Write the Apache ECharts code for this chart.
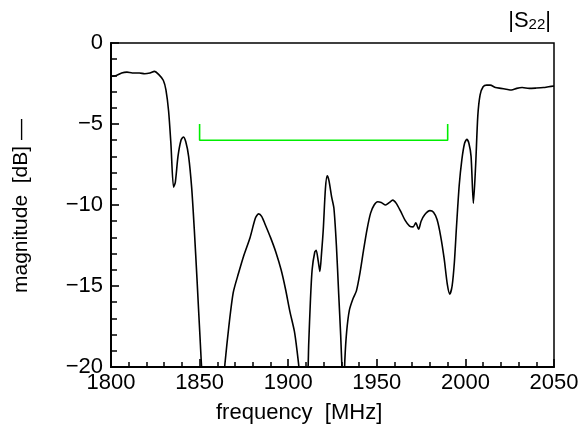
<!DOCTYPE html>
<html>
<head>
<meta charset="utf-8">
<script src="https://cdn.jsdelivr.net/npm/echarts@6/dist/echarts.min.js"></script>
<style>
html, body { margin: 0; padding: 0; background: #fff; }
#chart_content { width: 582px; height: 433px; }
</style>
</head>
<body>
<div id="chart_content"></div>
<script>
// |S22| 测量曲线 (频率 MHz / 幅度 dB)
var freq_data = [1800, 1803, 1806, 1809, 1812, 1816, 1819, 1822, 1824.5, 1827, 1829.5, 1831, 1832.5, 1833.8,
	1835.3, 1836.3, 1837.8, 1839.5, 1840.8, 1842.2, 1843.8, 1845.5, 1847, 1848.5, 1850.3, 1851.8, 1856, 1863,
	1864.3, 1866.5, 1869, 1872, 1875, 1878.5, 1881.5, 1883.3, 1885, 1887, 1890, 1893, 1896, 1898.5, 1901,
	1903.5, 1905, 1906.5, 1908, 1910.8, 1911.6, 1912.5, 1913.5, 1915, 1915.8, 1917, 1917.9, 1918.8, 1919.8,
	1921, 1922, 1923, 1924.5, 1925.8, 1927.2, 1928.5, 1929.6, 1930.5, 1931.2, 1932, 1933, 1934.5, 1936.5,
	1938.5, 1940.5, 1942.5, 1944.5, 1946.5, 1948.5, 1950.5, 1952.5, 1955, 1957, 1959, 1961, 1963.5, 1966,
	1968.5, 1970.5, 1972, 1973.6, 1975, 1977, 1980, 1982, 1984, 1986, 1988, 1989.8, 1991.2, 1992.5, 1993.8,
	1995, 1996.5, 1998, 1999.5, 2000.8, 2002, 2003.2, 2004.5, 2005.8, 2007, 2008.3, 2010, 2012, 2014, 2017,
	2020, 2023, 2026, 2029, 2032, 2036, 2040, 2044, 2047, 2050];
var mag_data = [-2.05, -2.0, -1.85, -1.8, -1.85, -1.85, -1.9, -1.85, -1.75, -1.95, -2.3, -2.9, -4.2, -6.2,
	-8.9, -8.6, -7.0, -6.0, -5.8, -6.1, -7.0, -8.9, -11.5, -14.5, -18.3, -21, -24, -21.5,
	-19.8, -17.5, -15.4, -14.2, -13.1, -12.0, -10.8, -10.55, -10.7, -11.2, -12.0, -12.9, -14.0, -15.2, -16.6,
	-17.8, -19.0, -20.5, -23, -21, -18.5, -16.0, -14.0, -12.9, -12.8, -13.5, -14.1, -13.0, -11.5,
	-9.0, -8.2, -8.5, -9.5, -10.2, -12.5, -15.5, -18.0, -20.5, -22, -19.5, -17.8, -16.5, -15.8,
	-15.3, -14.2, -12.8, -11.5, -10.5, -10.0, -9.8, -9.85, -10.0, -9.85, -9.7, -9.9, -10.4, -10.95,
	-11.3, -11.35, -11.1, -11.5, -11.0, -10.6, -10.35, -10.45, -10.9, -11.9, -13.3, -14.9, -15.5, -15.0, -13.5,
	-11.3, -8.8, -7.2, -6.2, -5.95, -6.2, -7.0, -9.9, -7.5, -4.5, -3.2, -2.7, -2.6, -2.6, -2.75,
	-2.8, -2.85, -2.9, -2.8, -2.75, -2.8, -2.78, -2.75, -2.7, -2.65];
// 绿色规格线 (通带 1850-1990 MHz, -6 dB)
var spec_freq = [1850, 1850, 1990, 1990];
var spec_mag = [-5, -6, -6, -5];

var font_name = "Liberation Sans";

function to_pairs(xs, ys){
	var arr = [];
	for(var i = 0; i < xs.length; i++){
		arr.push([xs[i], ys[i]]);
	}
	return arr;
}

var myChart = echarts.init(document.getElementById("chart_content"), null, { renderer: "canvas" });
var option = {
	animation: false,
	grid: {
		left: 111, right: 28, top: 43, bottom: 66,
		show: true,
		borderColor: "#000",
		borderWidth: 1.5
	},
	xAxis: {
		type: "value",
		min: 1800, max: 2050, interval: 50,
		axisLine: { show: true, onZero: false, lineStyle: { color: "#000", width: 2 } },
		axisTick: { show: true, inside: true, length: 8, lineStyle: { color: "#000", width: 1.6 } },
		minorTick: { show: true, splitNumber: 5, length: 5, lineStyle: { color: "#000", width: 1.5 } },
		splitLine: { show: false },
		axisLabel: {
			color: "#000", fontSize: 22, fontFamily: font_name, margin: 5,
			formatter: function(val){
				return String(val);
			}
		}
	},
	yAxis: {
		type: "value",
		min: -20, max: 0, interval: 5,
		axisLine: { show: true, onZero: false, lineStyle: { color: "#000", width: 2 } },
		axisTick: { show: true, inside: true, length: 8, lineStyle: { color: "#000", width: 1.6 } },
		minorTick: { show: true, splitNumber: 5, length: 6, lineStyle: { color: "#000", width: 1.5 } },
		splitLine: { show: false },
		axisLabel: {
			color: "#000", fontSize: 22, fontFamily: font_name, margin: 8,
			formatter: function(val){
				return String(val).replace("-", "\u2212");
			}
		}
	},
	graphic: [
		{
			type: "text", left: 216, top: 402,
			style: { text: "frequency  [MHz]", fontSize: 22, fontFamily: font_name, fill: "#000" }
		},
		{
			type: "text", x: 11, y: 293, rotation: Math.PI / 2,
			style: { text: "magnitude  [dB] \u2014", fontSize: 21, fontFamily: font_name, fill: "#000" }
		},
		{
			type: "text", right: 31, top: 10,
			style: {
				text: "|S{sub|22}|",
				fontSize: 22, fontFamily: font_name, fill: "#000",
				rich: { sub: { fontSize: 15, fontFamily: font_name, fill: "#000", verticalAlign: "bottom", padding: [8, 0, 0, 0] } }
			}
		}
	],
	series: [
		{
			name: "S22",
			type: "line",
			data: to_pairs(freq_data, mag_data),
			showSymbol: false,
			smooth: 0.25,
			clip: true,
			lineStyle: { color: "#000", width: 1.6 }
		},
		{
			name: "spec",
			type: "line",
			data: to_pairs(spec_freq, spec_mag),
			showSymbol: false,
			lineStyle: { color: "#00ee00", width: 1.6 }
		}
	]
};
myChart.setOption(option, true);
</script>
</body>
</html>
